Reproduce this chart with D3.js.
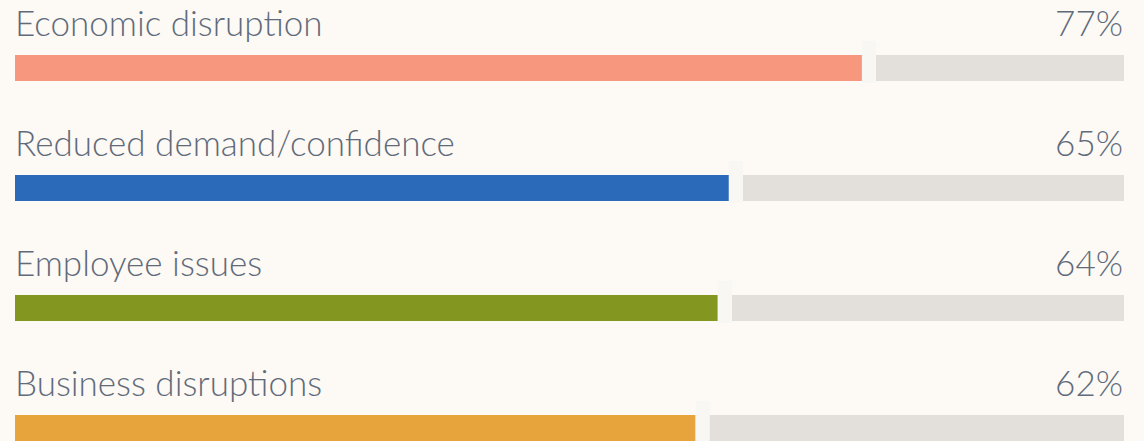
<!DOCTYPE html>
<html lang="en">
<head>
    <meta charset="UTF-8">
    <title>Bars</title>
    <script src="https://cdn.jsdelivr.net/npm/d3@7"></script>
    <style>
        body, html {
            margin: 0;
            padding: 0;
            background: #fdf9f4;
            overflow: hidden;
        }
        svg { display: block; }
    </style>
</head>
<body>
    <svg id="mainsvg"></svg>
    <script>
        const categories = ["Economic disruption", "Reduced demand/confidence", "Employee issues", "Business disruptions"];
        const values = [77, 65, 64, 62];
        const colors = ["#f7987e", "#2a6ab9", "#83961f", "#e8a43c"];

        const width = 1144, height = 441;
        const svg = d3.select("#mainsvg")
            .attr("width", width)
            .attr("height", height)
            .style("background-color", "#fdf9f4");

        const x = d3.scaleLinear().domain([0, 100]).range([15, 1124]);
        const rowY = d3.scaleBand().domain(categories).range([0, 480]).padding(0);

        const barH = 26, barOff = 55, gap = 7;

        const rows = svg.selectAll("g.row")
            .data(categories)
            .join("g")
            .attr("class", "row")
            .attr("transform", d => `translate(0,${rowY(d)})`);

        // grey track
        rows.append("rect")
            .attr("x", (d, i) => x(values[i]) + gap)
            .attr("y", barOff)
            .attr("width", (d, i) => x(100) - x(values[i]) - gap)
            .attr("height", barH)
            .attr("fill", "#e3e0db");

        // value bar
        rows.append("rect")
            .attr("x", x(0))
            .attr("y", barOff)
            .attr("width", (d, i) => x(values[i]) - gap - x(0))
            .attr("height", barH)
            .attr("fill", (d, i) => colors[i]);

        // marker
        rows.append("rect")
            .attr("x", (d, i) => x(values[i]) - gap)
            .attr("y", barOff - 14)
            .attr("width", gap * 2)
            .attr("height", barH + 16)
            .attr("fill", "#f9f7f3");

        rows.append("text")
            .attr("x", x(0))
            .attr("y", 36)
            .attr("font-family", "Lato")
            .attr("font-weight", 300)
            .attr("font-size", 35)
            .attr("fill", "#5f6b7b")
            .text(d => d);

        rows.append("text")
            .attr("x", x(100) - 1)
            .attr("y", 36)
            .attr("text-anchor", "end")
            .attr("font-family", "Lato")
            .attr("font-weight", 300)
            .attr("font-size", 35)
            .attr("fill", "#5f6b7b")
            .text((d, i) => values[i] + "%");
    </script>
</body>
</html>
